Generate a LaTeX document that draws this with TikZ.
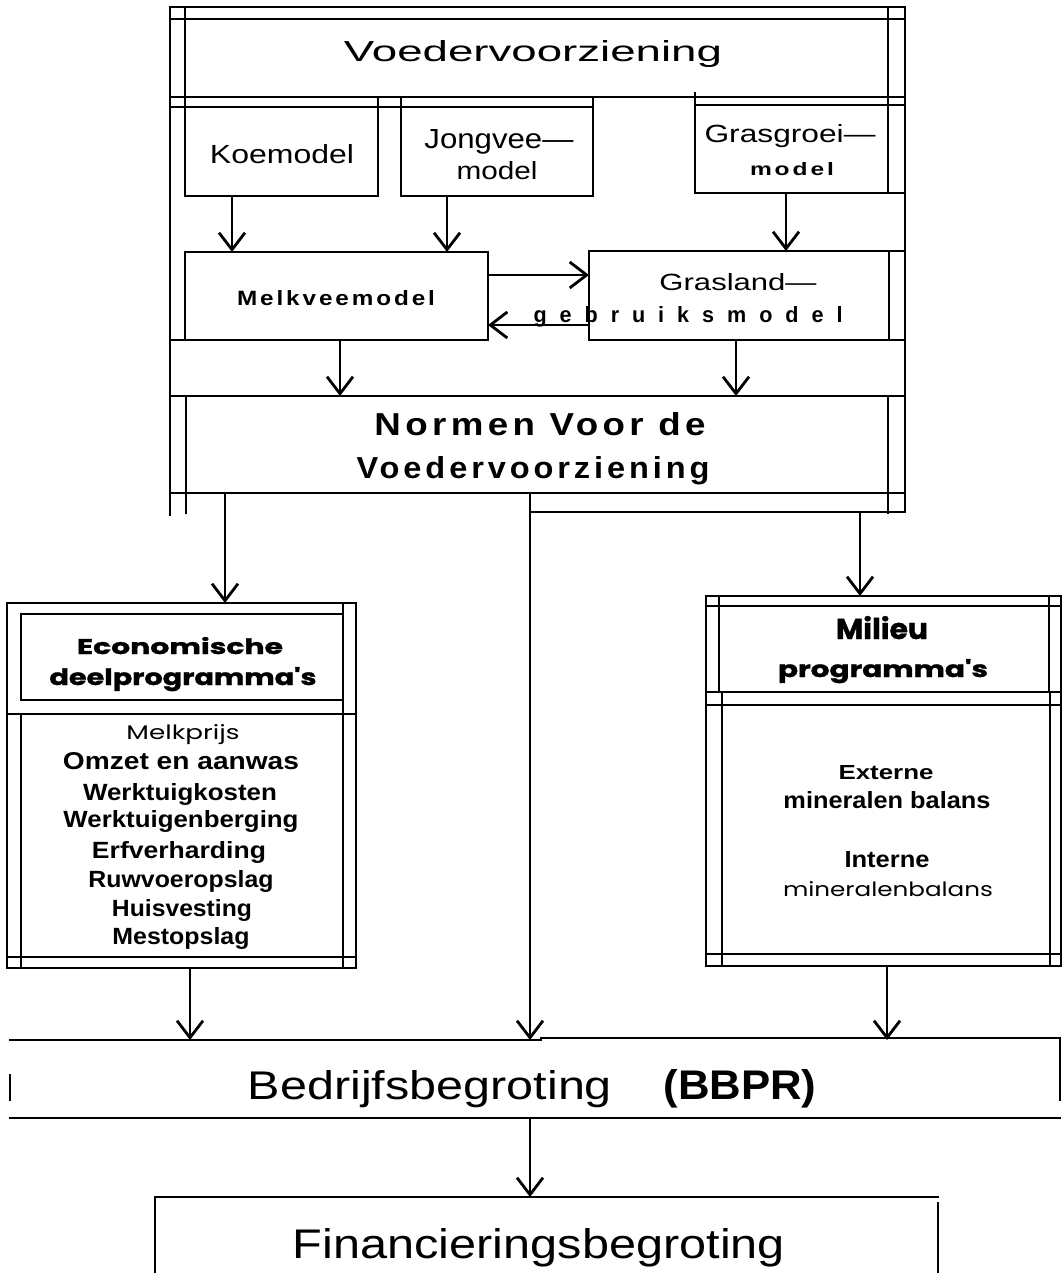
\documentclass[tikz,border=0pt]{standalone}
\usepackage{fontspec}
\usepackage{graphicx}
\setmainfont{Liberation Sans}
\newfontfamily\fReg{Liberation Sans}
\newfontfamily\fSp[LetterSpace=12]{Liberation Sans}
\newfontfamily\fWide[LetterSpace=60]{Liberation Sans}
\newfontfamily\fHeavy{Poppins}
\newfontfamily\fBlack[BoldFeatures={FakeBold=1.2}]{Poppins}
\usetikzlibrary{arrows.meta}
\newcommand{\fitx}[3]{\resizebox{#1pt}{#2pt}{#3}}
\tikzset{
  ln/.style={line width=2.8pt, line cap=rect},
  arr/.style={line width=2.8pt, -{Straight Barb[length=17pt,width=26pt,line width=2.8pt]}},
  bx/.style={ln, draw, inner sep=0pt, outer sep=0pt, anchor=north west},
  ghost/.style={draw=none, inner sep=0pt, outer sep=0pt, anchor=north west},
  lbl/.style={anchor=base, inner sep=0pt, outer sep=0pt},
}
\begin{document}
\begin{tikzpicture}[x=1pt,y=-1pt]
\useasboundingbox (0,0) rectangle (1064,1273);
\fill[white] (0,0) rectangle (1064,1273);

% ---------- named boxes ----------
\node[ghost, minimum width=735pt, minimum height=505pt] (frame) at (170,7) {};
\node[bx, minimum width=703pt, minimum height=78pt] (head) at (185,19) {};
\node[bx, minimum width=193pt, minimum height=89pt] (koe) at (185,107) {};
\node[bx, minimum width=192pt, minimum height=89pt] (jong) at (401,107) {};
\node[bx, minimum width=193pt, minimum height=88pt] (gras) at (695,105) {};
\node[bx, minimum width=303pt, minimum height=88pt] (melk) at (185,252) {};
\node[bx, minimum width=300pt, minimum height=89pt] (grl) at (589,251) {};
\node[bx, minimum width=702pt, minimum height=97pt] (norm) at (186,396) {};
\node[bx, minimum width=349pt, minimum height=365pt] (eco) at (7,603) {};
\node[bx, minimum width=322pt, minimum height=86pt] (ecot) at (21,614) {};
\node[bx, minimum width=322pt, minimum height=243pt] (ecol) at (21,714) {};
\node[bx, minimum width=355pt, minimum height=370pt] (mil) at (706,596) {};
\node[bx, minimum width=330pt, minimum height=86pt] (milt) at (719,606) {};
\node[bx, minimum width=328pt, minimum height=249pt] (mill) at (722,705) {};
\node[ghost, minimum width=1050pt, minimum height=78pt] (bed) at (10,1040) {};
\node[ghost, minimum width=783pt, minimum height=76pt] (fin) at (155,1197) {};

% ---------- frame lines ----------
\draw[ln] (170,515) -- (170,7) -- (905,7) -- (905,512);
\draw[ln] (170,19) -- (905,19);
\draw[ln] (185,7) -- (185,19);
\draw[ln] (888,7) -- (888,19);
\draw[ln] (170,97) -- (905,97);
\draw[ln] (170,107) -- (593,107);
\draw[ln] (695,105) -- (905,105);
\draw[ln] (185,97) -- (185,107);
\draw[ln] (888,97) -- (888,105);
\draw[ln] (378,97) -- (378,107);
\draw[ln] (401,97) -- (401,107);
\draw[ln] (593,97) -- (593,107);
\draw[ln] (695,93) -- (695,105);
\draw[ln] (888,193) -- (905,193);
\draw[ln] (889,251) -- (905,251);
\draw[ln] (170,340) -- (185,340);
\draw[ln] (889,340) -- (905,340);
\draw[ln] (170,396) -- (905,396);
\draw[ln] (170,493) -- (905,493);
\draw[ln] (530,512) -- (905,512);
\draw[ln] (186,493) -- (186,513);
\draw[ln] (888,493) -- (888,513);

% economische box extras
\draw[ln] (7,714) -- (356,714);
\draw[ln] (7,957) -- (356,957);
\draw[ln] (343,603) -- (343,614);
\draw[ln] (343,700) -- (343,714);
\draw[ln] (343,957) -- (343,968);
\draw[ln] (21,957) -- (21,968);

% milieu box extras
\draw[ln] (706,606) -- (1061,606);
\draw[ln] (706,692) -- (1061,692);
\draw[ln] (706,705) -- (1061,705);
\draw[ln] (706,954) -- (1061,954);
\draw[ln] (719,596) -- (719,606);
\draw[ln] (1049,596) -- (1049,606);
\draw[ln] (722,692) -- (722,705);
\draw[ln] (1050,692) -- (1050,705);
\draw[ln] (722,954) -- (722,966);
\draw[ln] (1050,954) -- (1050,966);

% bedrijfsbegroting
\draw[ln] (10,1040) -- (541,1040);
\draw[ln] (541,1038) -- (1060,1038) -- (1060,1100);
\draw[ln] (10,1075) -- (10,1100);
\draw[ln] (10,1118) -- (1060,1118);

% financieringsbegroting
\draw[ln] (155,1273) -- (155,1197) -- (938,1197);
\draw[ln] (938,1203) -- (938,1273);

% ---------- arrows ----------
\coordinate (xa) at (232,0);
\coordinate (xb) at (447,0);
\coordinate (xc) at (786,0);
\coordinate (ya) at (0,275);
\coordinate (yb) at (0,325);
\coordinate (xd) at (340,0);
\coordinate (xe) at (736,0);
\coordinate (xf) at (225,0);
\coordinate (xg) at (530,0);
\coordinate (xh) at (860,0);
\coordinate (xi) at (190,0);
\coordinate (xj) at (887,0);
\draw[arr] (koe.south -| xa) -- (melk.north -| xa);
\draw[arr] (jong.south -| xb) -- (melk.north -| xb);
\draw[arr] (gras.south -| xc) -- (grl.north -| xc);
\draw[arr] (melk.east |- ya) -- (grl.west |- ya);
\draw[arr] (grl.west |- yb) -- (melk.east |- yb);
\draw[arr] (melk.south -| xd) -- (norm.north -| xd);
\draw[arr] (grl.south -| xe) -- (norm.north -| xe);
\draw[arr] (norm.south -| xf) -- (eco.north -| xf);
\draw[arr] (norm.south -| xg) -- (bed.north -| xg);
\draw[arr] (frame.south -| xh) -- (mil.north -| xh);
\draw[arr] (eco.south -| xi) -- (bed.north -| xi);
\draw[arr] (mil.south -| xj) -- (bed.north -| xj);
\draw[arr] (bed.south -| xg) -- (fin.north -| xg);

% ---------- texts ----------
\node[lbl] (t1) at (533,62) {\fitx{378}{21}{\fReg Voedervoorziening}};
\node[lbl] (t2) at (282,164) {\fitx{144}{19}{\fReg Koemodel}};
\node[lbl] (t3) at (499,149) {\fitx{149}{19}{\fReg Jongvee—}};
\node[lbl] (t4) at (497,180) {\fitx{81}{18}{\fReg model}};
\node[lbl] (t5) at (790,143) {\fitx{171}{18}{\fReg Grasgroei—}};
\node[lbl] (t6) at (792,176) {\fitx{84}{13}{\fSp\bfseries model}};
\node[lbl] (t7) at (336,305) {\fitx{198}{15}{\fSp\bfseries Melkveemodel}};
\node[lbl] (t8) at (738,290) {\fitx{157}{17}{\fReg Grasland—}};
\node[lbl] (t9) at (688,322) {\fitx{309}{16}{\fWide\bfseries gebruiksmodel}};
\node[lbl] (t10) at (540,435) {\fitx{331}{23}{\fSp\bfseries Normen Voor de}};
\node[lbl] (t11) at (533,478) {\fitx{353}{22}{\fSp\bfseries Voedervoorziening}};

\node[lbl] (t12) at (180,654) {\fitx{206}{17}{\fBlack\bfseries Economische}};
\node[lbl] (t13) at (183,685) {\fitx{267}{18}{\fBlack\bfseries deelprogramma's}};
\node[lbl] (t14) at (183,739) {\fitx{113}{15}{\fHeavy Melkprijs}};
\node[lbl] (t15) at (181,769) {\fitx{236}{17}{\fReg\bfseries Omzet  en  aanwas}};
\node[lbl] (t16) at (180,800) {\fitx{194}{17}{\fReg\bfseries Werktuigkosten}};
\node[lbl] (t17) at (181,827) {\fitx{235}{17}{\fReg\bfseries Werktuigenberging}};
\node[lbl] (t18) at (179,858) {\fitx{174}{17}{\fReg\bfseries Erfverharding}};
\node[lbl] (t19) at (181,887) {\fitx{185}{17}{\fReg\bfseries Ruwvoeropslag}};
\node[lbl] (t20) at (182,916) {\fitx{140}{17}{\fReg\bfseries Huisvesting}};
\node[lbl] (t21) at (181,944) {\fitx{137}{17}{\fReg\bfseries Mestopslag}};

\node[lbl] (t22) at (882,639) {\fitx{92}{23}{\fBlack\bfseries Milieu}};
\node[lbl] (t23) at (883,677) {\fitx{210}{18}{\fBlack\bfseries programma's}};
\node[lbl] (t24) at (886,779) {\fitx{95}{14}{\fReg\bfseries Externe}};
\node[lbl] (t25) at (887,808) {\fitx{207}{17}{\fReg\bfseries mineralen  balans}};
\node[lbl] (t26) at (887,867) {\fitx{85}{16}{\fReg\bfseries Interne}};
\node[lbl] (t27) at (888,896) {\fitx{210}{15}{\fHeavy mineralenbalans}};

\node[lbl] (t28) at (430,1099) {\fitx{364}{29}{\fReg Bedrijfsbegroting}};
\node[lbl] (t29) at (740,1099) {\fitx{153}{30}{\fReg\bfseries (BBPR)}};
\node[lbl] (t30) at (539,1258) {\fitx{492}{30}{\fReg Financieringsbegroting}};
\end{tikzpicture}
\end{document}
